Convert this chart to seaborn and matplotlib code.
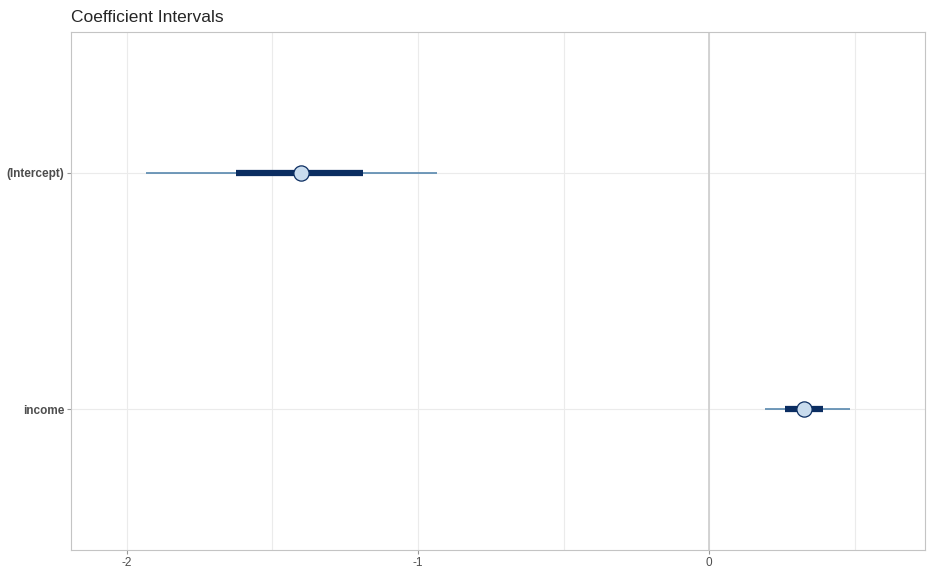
import matplotlib
matplotlib.use("Agg")
import matplotlib.pyplot as plt
import seaborn as sns
import pandas as pd

terms = ["(Intercept)", "income"]
estimate = [-1.402, 0.326]
inner_lo = [-1.625, 0.261]
inner_hi = [-1.189, 0.392]
outer_lo = [-1.935, 0.192]
outer_hi = [-0.935, 0.485]
xticks = [-2, -1, 0]

df = pd.DataFrame(dict(term=terms, est=estimate, ilo=inner_lo, ihi=inner_hi, olo=outer_lo, ohi=outer_hi))

sns.set_theme(style="white")
plt.rcParams['font.family'] = ['Liberation Sans', 'DejaVu Sans']
fig = plt.figure(figsize=(9.31, 5.76), dpi=100)
ax = fig.add_axes([0.0763, 0.0451, 0.9173, 0.8993])
ypos = list(range(len(terms)))
for xt in xticks + [-1.5, -0.5, 0.5]:
    ax.axvline(xt, color="#ebebeb", lw=0.8, zorder=0)
for y in ypos:
    ax.axhline(y, color="#ebebeb", lw=0.8, zorder=0)
ax.axvline(0, color="#d0d0d0", lw=1.3, zorder=1)
ax.hlines(ypos, df.olo, df.ohi, color="#4a7ea8", lw=1.1, zorder=2)
ax.hlines(ypos, df.ilo, df.ihi, color="#0b2d61", lw=4.5, zorder=3)
sns.scatterplot(x=df.est, y=ypos, ax=ax, s=120, color="#c9dcee", edgecolor="#0b2d61", linewidth=0.9, zorder=4, legend=False)
ax.set_xlim(-2.192, 0.742)
ax.set_ylim(1.597, -0.597)
ax.set_xticks(xticks)
ax.set_xticklabels([str(x) for x in xticks], fontsize=8.5, color="#4d4d4d")
ax.set_yticks(ypos)
ax.set_yticklabels(terms, fontsize=8.5, fontweight="bold", color="#4d4d4d")
ax.tick_params(axis="both", length=3, color="#999999", width=0.8, left=True, bottom=True, pad=2)
for s in ax.spines.values():
    s.set_color("#c4c4c4"); s.set_linewidth(0.8)
ax.set_xlabel(""); ax.set_ylabel("")
ax.set_title("Coefficient Intervals", loc="left", fontsize=12.5, x=0.0, pad=7)
fig.savefig("out.png", dpi=100)
